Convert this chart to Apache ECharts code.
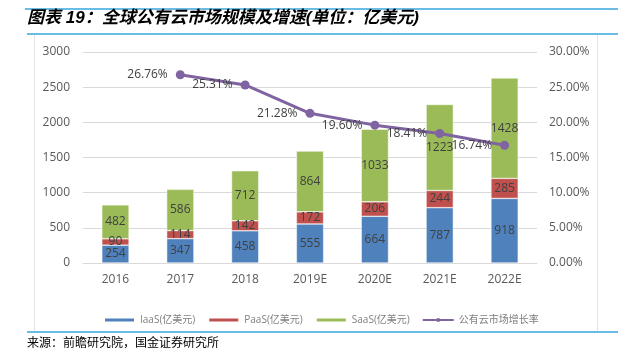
<!DOCTYPE html>
<html>
<head>
<meta charset="utf-8">
<script src="https://cdn.jsdelivr.net/npm/echarts@6/dist/echarts.min.js"></script>
<style>
  html, body { margin: 0; padding: 0; background: #fff; }
  #main { width: 618px; height: 350px; }
</style>
</head>
<body>
<div id="main"></div>
<script>
// 年份
var years = ['2016', '2017', '2018', '2019E', '2020E', '2021E', '2022E'];
// 亿美元
var iaas = [254, 347, 458, 555, 664, 787, 918];
var paas = [90, 114, 142, 172, 206, 244, 285];
var saas = [482, 586, 712, 864, 1033, 1223, 1428];
// 增长率 (%)
var growth = [null, 26.76, 25.31, 21.28, 19.60, 18.41, 16.74];

var myChart = echarts.init(document.getElementById('main'));
var txt = '#404040';
var axisTxt = '#595959';
var font = '"Open Sans", "Noto Sans CJK SC", sans-serif';

var barLabel = {
    show: true,
    position: 'inside',
    color: txt,
    fontSize: 12,
    fontFamily: font
};

option = {
    backgroundColor: '#fff',
    animation: false,
    textStyle: { fontFamily: font },
    graphic: [
        { type: 'line', shape: { x1: 25, y1: 9, x2: 618, y2: 9 }, style: { stroke: '#3aa6dd', lineWidth: 1.5 } },
        { type: 'text', left: 27, top: 10, style: {
            text: '图表 19：全球公有云市场规模及增速(单位：亿美元)',
            fill: '#000', fontSize: 17, fontWeight: 'bold', fontStyle: 'italic',
            fontFamily: 'Arial, "Noto Sans CJK SC", sans-serif'
        } },
        { type: 'line', shape: { x1: 27, y1: 34, x2: 618, y2: 34 }, style: { stroke: '#3aa6dd', lineWidth: 1.5 } },
        { type: 'line', shape: { x1: 34.5, y1: 35, x2: 34.5, y2: 331 }, style: { stroke: '#e3e3e3', lineWidth: 1 } },
        { type: 'line', shape: { x1: 597.5, y1: 35, x2: 597.5, y2: 331 }, style: { stroke: '#e3e3e3', lineWidth: 1 } },
        { type: 'line', shape: { x1: 27, y1: 332, x2: 618, y2: 332 }, style: { stroke: '#3aa6dd', lineWidth: 1.5 } },
        { type: 'text', left: 27, top: 336, style: {
            text: '来源：前瞻研究院，国金证券研究所',
            fill: '#000', fontSize: 12,
            fontFamily: '"Noto Sans CJK SC", sans-serif'
        } }
    ],
    legend: {
        left: 98,
        top: 310,
        itemWidth: 31,
        itemHeight: 5,
        itemGap: 12,
        textStyle: { color: '#7f7f7f', fontSize: 10, fontFamily: font },
        data: [
            { name: 'IaaS(亿美元)', icon: 'rect' },
            { name: 'PaaS(亿美元)', icon: 'rect' },
            { name: 'SaaS(亿美元)', icon: 'rect' },
            { name: '公有云市场增长率' }
        ]
    },
    grid: {
        left: 83,
        right: 81,
        top: 52,
        bottom: 87
    },
    xAxis: [
        {
            type: 'category',
            data: years,
            axisTick: { show: false },
            axisLine: { lineStyle: { color: '#d9d9d9' } },
            axisLabel: { color: axisTxt, fontSize: 12, margin: 11 }
        }
    ],
    yAxis: [
        {
            type: 'value',
            min: 0,
            max: 3000,
            interval: 500,
            axisLabel: {
                color: axisTxt, fontSize: 12, margin: 13,
                formatter: function (v) { return String(v); }
            },
            splitLine: { lineStyle: { color: '#d9d9d9' } }
        },
        {
            type: 'value',
            min: 0,
            max: 30,
            interval: 5,
            axisLabel: {
                color: axisTxt, fontSize: 12, margin: 12,
                formatter: function (v) { return v.toFixed(2) + '%'; }
            },
            splitLine: { show: false }
        }
    ],
    series: [
        {
            name: 'IaaS(亿美元)',
            type: 'bar',
            stack: 'total',
            barWidth: '42%',
            data: iaas,
            itemStyle: { color: '#4f81bd', borderColor: '#fff', borderWidth: 0.5 },
            label: barLabel
        },
        {
            name: 'PaaS(亿美元)',
            type: 'bar',
            stack: 'total',
            data: paas,
            itemStyle: { color: '#c0504d', borderColor: '#fff', borderWidth: 0.5 },
            label: barLabel
        },
        {
            name: 'SaaS(亿美元)',
            type: 'bar',
            stack: 'total',
            data: saas,
            itemStyle: { color: '#9bbb59', borderColor: '#fff', borderWidth: 0.5 },
            label: barLabel
        },
        {
            name: '公有云市场增长率',
            type: 'line',
            yAxisIndex: 1,
            data: growth,
            symbol: 'circle',
            symbolSize: 9,
            lineStyle: { color: '#8064a2', width: 3 },
            itemStyle: { color: '#8064a2' },
            label: {
                show: true,
                position: 'left',
                distance: 8,
                color: txt,
                fontSize: 12,
                fontFamily: font,
                formatter: function (p) { return p.value.toFixed(2) + '%'; }
            }
        }
    ]
};

myChart.setOption(option);
</script>
</body>
</html>
